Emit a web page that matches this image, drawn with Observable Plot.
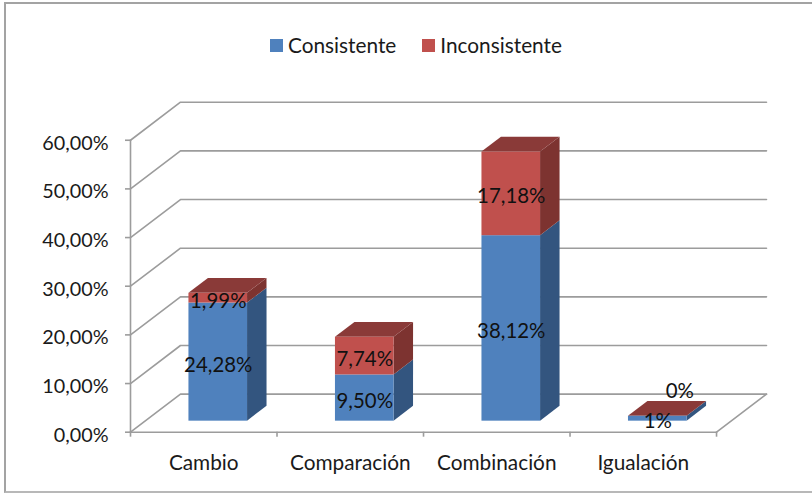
<!DOCTYPE html>
<html>
<head>
<meta charset="utf-8">
<script src="https://cdn.jsdelivr.net/npm/d3@7"></script>
<script src="https://cdn.jsdelivr.net/npm/@observablehq/plot@0.6"></script>
<style>
  html, body { margin: 0; padding: 0; background: #fff; }
  #chart { position: relative; width: 812px; height: 493px; overflow: hidden; font-family: Lato, sans-serif; color: #1a1a1a; }
  #chart svg { position: absolute; left: 0; top: 0; background: transparent; }
  #frame { position: absolute; left: 4px; top: 2px; width: 830px; height: 487px; border: 2px solid #a3a3a3; border-bottom-color: #b8b8b8; box-sizing: content-box; }
  #legend { position: absolute; left: 270px; top: 32px; display: flex; align-items: center; font-size: 20.8px; line-height: 26px; white-space: nowrap; }
  #legend span.sw { display: inline-block; width: 13px; height: 13px; margin-right: 5px; }
  #legend span.lb { margin-right: 26px; }
</style>
</head>
<body>
<div id="chart"><div id="frame"></div><div id="legend"></div></div>
<script>
const categories = ["Cambio", "Comparación", "Combinación", "Igualación"];
const consistente = [24.28, 9.5, 38.12, 1];
const inconsistente = [1.99, 7.74, 17.18, 0];
const consistenteLabels = ["24,28%", "9,50%", "38,12%", "1%"];
const inconsistenteLabels = ["1,99%", "7,74%", "17,18%", "0%"];
const yTicks = [0, 10, 20, 30, 40, 50, 60];
const seriesNames = ["Consistente", "Inconsistente"];
const frontColors = ["#4f81bd", "#c0504d"];
const sideColors = ["#33557f", "#7d3330"];
const topColor = "#8a3a38";
const gridColor = "#9c9c9c";

// oblique projection of the 3-D chart, in data units
const depthX = 0.341, depthY = 7.82;
const barWidth = 0.4, d0 = 0.29, d1 = 0.68;
const X = (u, d) => u + depthX * d;
const Y = (v, d) => v + depthY * d;

const segments = categories.flatMap((c, i) => [
  {i, s: 0, v0: 0, v1: consistente[i], label: consistenteLabels[i]},
  {i, s: 1, v0: consistente[i], v1: consistente[i] + inconsistente[i], label: inconsistenteLabels[i]}
]).map(o => ({...o, u0: o.i + 0.5 - barWidth / 2, u1: o.i + 0.5 + barWidth / 2}));

const grid = yTicks.flatMap(v => [
  {v, x: X(0, 0), y: Y(v, 0)},
  {v, x: X(0, 1), y: Y(v, 1)},
  {v, x: X(4, 1), y: Y(v, 1)}
]);
const floorFront = [0, 4].map(u => ({x: X(u, 0), y: Y(0, 0)}));
const floorRight = [0, 1].map(d => ({x: X(4, d), y: Y(0, d)}));
const wallLeft = [0, 60].map(v => ({x: X(0, 0), y: Y(v, 0)}));

const sideFaces = segments.flatMap(o => [d0, d1].map(d => ({
  key: `${o.i}-${o.s}`, s: o.s, x: X(o.u1, d), y1: Y(o.v0, d), y2: Y(o.v1, d)
})));
const topFaces = segments.filter(o => o.s === 1).flatMap(o => [d0, d1].map(d => ({
  key: o.i, y: Y(o.v1, d), x1: X(o.u0, d), x2: X(o.u1, d)
})));
const labelMid = segments.map(o => ({
  label: o.label, zero: o.v1 === o.v0, x: X((o.u0 + o.u1) / 2, d0), y: Y((o.v0 + o.v1) / 2, d0)
}));

const plot = Plot.plot({
  width: 812, height: 493,
  marginLeft: 130, marginRight: 46, marginTop: 101.7, marginBottom: 61.3,
  style: {fontFamily: "Lato, sans-serif", background: "transparent"},
  x: {domain: [0, 4 + depthX], axis: null},
  y: {domain: [0, 60 + depthY], axis: null},
  marks: [
    Plot.line(grid, {x: "x", y: "y", z: "v", stroke: gridColor, strokeWidth: 1.6}),
    Plot.line(floorFront, {x: "x", y: "y", stroke: gridColor, strokeWidth: 1.6}),
    Plot.line(floorRight, {x: "x", y: "y", stroke: gridColor, strokeWidth: 1.6}),
    Plot.line(wallLeft, {x: "x", y: "y", stroke: gridColor, strokeWidth: 1.6}),
    Plot.axisY({ticks: yTicks, tickSize: 5, tickPadding: 17, stroke: gridColor, strokeWidth: 1.6, tickFormat: () => ""}),
    Plot.axisY({ticks: yTicks, tickSize: 0, tickPadding: 22, fontSize: 19.8, dy: 3, fill: "#1a1a1a", tickFormat: d => d.toFixed(2).replace(".", ",") + "%"}),
    Plot.axisX({ticks: [0, 1, 2, 3, 4], tickSize: 5, stroke: gridColor, strokeWidth: 1.6, tickFormat: () => ""}),
    Plot.axisX({ticks: [0.5, 1.5, 2.5, 3.5], tickSize: 0, tickPadding: 23, fontSize: 20.8, fill: "#1a1a1a", tickFormat: d => categories[d - 0.5]}),
    Plot.areaY(sideFaces, {x: "x", y1: "y1", y2: "y2", z: "key", fill: d => sideColors[d.s]}),
    Plot.areaX(topFaces, {y: "y", x1: "x1", x2: "x2", z: "key", fill: topColor}),
    Plot.rect(segments, {x1: d => X(d.u0, d0), x2: d => X(d.u1, d0), y1: d => Y(d.v0, d0), y2: d => Y(d.v1, d0), fill: d => frontColors[d.s], inset: 0}),
    Plot.text(labelMid.filter(d => !d.zero), {x: "x", y: "y", text: "label", fontSize: 20.4, fill: "#111", dy: 3}),
    Plot.text(labelMid.filter(d => d.zero), {x: "x", y: "y", text: "label", fontSize: 20.4, fill: "#111", dx: 22, dy: -25})
  ]
});
document.getElementById("chart").appendChild(plot);

const legend = document.getElementById("legend");
seriesNames.forEach((name, i) => {
  const sw = document.createElement("span"); sw.className = "sw"; sw.style.background = frontColors[i];
  const lb = document.createElement("span"); lb.className = "lb"; lb.textContent = name;
  legend.append(sw, lb);
});
</script>
</body>
</html>
